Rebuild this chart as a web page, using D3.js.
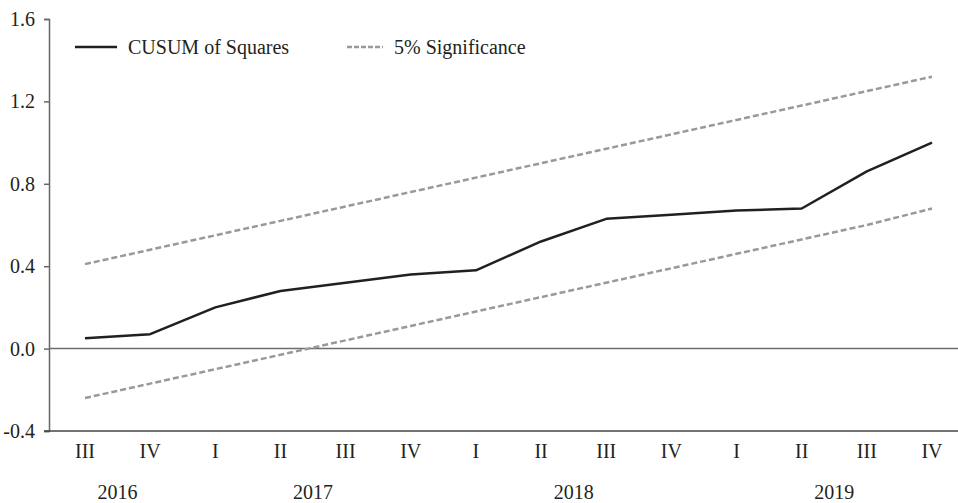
<!DOCTYPE html>
<html>
<head>
<meta charset="utf-8">
<script src="https://cdn.jsdelivr.net/npm/d3@7"></script>
<style>
  html, body { margin: 0; padding: 0; background: #fff; }
  svg text { font-family: "Liberation Serif", "Times New Roman", "DejaVu Serif", serif; }
</style>
</head>
<body>
<svg id="chart" width="958" height="503"></svg>
<script>
// Quarterly CUSUM of squares test with 5% significance bounds
const quarters = ["III", "IV", "I", "II", "III", "IV", "I", "II", "III", "IV", "I", "II", "III", "IV"];
const years    = ["2016", "2016", "2017", "2017", "2017", "2017", "2018", "2018", "2018", "2018", "2019", "2019", "2019", "2019"];
const cusumSq  = [0.05, 0.07, 0.20, 0.28, 0.32, 0.36, 0.38, 0.52, 0.63, 0.65, 0.67, 0.68, 0.86, 1.00];
const upperBound = [0.41, 0.48, 0.55, 0.62, 0.69, 0.76, 0.83, 0.90, 0.97, 1.04, 1.11, 1.18, 1.25, 1.32];
const lowerBound = [-0.24, -0.17, -0.10, -0.03, 0.04, 0.11, 0.18, 0.25, 0.32, 0.39, 0.46, 0.53, 0.60, 0.68];
const yTicks = [-0.4, 0.0, 0.4, 0.8, 1.2, 1.6];
const legendLabels = ["CUSUM of Squares", "5% Significance"];

const FONT = "'Liberation Serif', 'Times New Roman', 'DejaVu Serif', serif";
const FS = 20;
const svg = d3.select("#chart");
const plot = { left: 49, right: 958, top: 19, bottom: 431 };
const textColor = "#231f20";

const idx = quarters.map((_, i) => i);
const x = d3.scalePoint().domain(idx).range([85, 932]);
const y = d3.scaleLinear().domain([-0.4, 1.6]).range([plot.bottom, plot.top]);

// y axis
const yAxis = svg.append("g")
  .attr("transform", `translate(${plot.left},0)`)
  .call(d3.axisLeft(y).tickValues(yTicks).tickSize(5).tickPadding(9)
    .tickFormat(d => d.toFixed(1)));
yAxis.attr("font-family", FONT).attr("font-size", FS);
yAxis.select(".domain").attr("stroke", "#666").attr("stroke-width", 1.5);
yAxis.selectAll(".tick line").attr("stroke", "#666").attr("stroke-width", 1.5);
yAxis.selectAll(".tick text").attr("fill", textColor);

// zero reference line
svg.append("line")
  .attr("x1", plot.left).attr("x2", plot.right)
  .attr("y1", y(0)).attr("y2", y(0))
  .attr("stroke", "#6d6d6d").attr("stroke-width", 1.5);

// bottom axis line
svg.append("line")
  .attr("x1", plot.left - 5).attr("x2", plot.right)
  .attr("y1", y(-0.4)).attr("y2", y(-0.4))
  .attr("stroke", "#444").attr("stroke-width", 1.5);

// quarter labels
svg.append("g").selectAll("text")
  .data(idx)
  .join("text")
  .attr("x", i => x(i))
  .attr("y", 458)
  .attr("text-anchor", "middle")
  .attr("fill", textColor)
  .attr("font-family", FONT)
  .attr("font-size", FS)
  .text(i => quarters[i]);

// year labels, centred over their quarters
const yearGroups = d3.groups(idx, i => years[i]);
svg.append("g").selectAll("text")
  .data(yearGroups)
  .join("text")
  .attr("x", ([, is]) => d3.mean(is, i => x(i)))
  .attr("y", 499)
  .attr("text-anchor", "middle")
  .attr("fill", textColor)
  .attr("font-family", FONT)
  .attr("font-size", FS)
  .text(([yr]) => yr);

const line = d3.line().x((d, i) => x(i)).y(d => y(d));

// significance bounds
[upperBound, lowerBound].forEach(vals => {
  svg.append("path")
    .datum(vals)
    .attr("d", line)
    .attr("fill", "none")
    .attr("stroke", "#999")
    .attr("stroke-width", 2.5)
    .attr("stroke-dasharray", "6,3");
});

// CUSUM of squares
svg.append("path")
  .datum(cusumSq)
  .attr("d", line)
  .attr("fill", "none")
  .attr("stroke", textColor)
  .attr("stroke-width", 2.5)
  .attr("stroke-linejoin", "round");

// legend
const legend = svg.append("g");
const legendItems = [
  { label: legendLabels[0], x0: 75, x1: 117, stroke: textColor, dash: null },
  { label: legendLabels[1], x0: 347, x1: 383, stroke: "#999", dash: "5,2" }
];
legendItems.forEach(it => {
  legend.append("line")
    .attr("x1", it.x0).attr("x2", it.x1)
    .attr("y1", 47).attr("y2", 47)
    .attr("stroke", it.stroke)
    .attr("stroke-width", 2.5)
    .attr("stroke-dasharray", it.dash);
  legend.append("text")
    .attr("x", it.x1 + 11)
    .attr("y", 47)
    .attr("dy", "0.35em")
    .attr("fill", textColor)
    .attr("font-family", FONT)
    .attr("font-size", FS)
    .text(it.label);
});
</script>
</body>
</html>
